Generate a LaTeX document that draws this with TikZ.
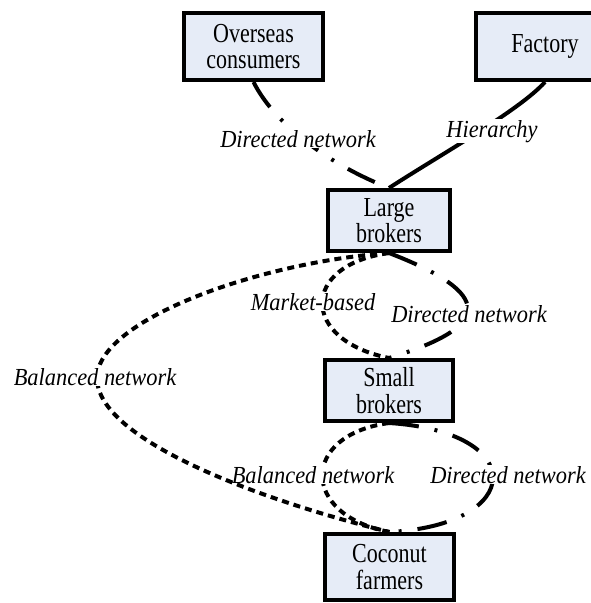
\documentclass[tikz,border=0pt]{standalone}
\usepackage{fontspec}
\setmainfont{Liberation Serif}
\newfontfamily\boxfont[FakeStretch=0.8]{Liberation Serif}
\newfontfamily\lblfont[FakeStretch=0.915]{Liberation Serif}
\definecolor{boxfill}{RGB}{230,236,247}
\begin{document}
\begin{tikzpicture}[x=1pt,y=-1pt,
  box/.style={draw=black, line width=4pt, fill=boxfill, align=center,
    font=\boxfont\fontsize{27.5}{26.3}\selectfont, inner sep=0pt},
  lbl/.style={fill=white, inner sep=1pt, font=\lblfont\itshape\fontsize{24.5}{27}\selectfont, anchor=base},
  solidlink/.style={line width=4pt},
  dirlink/.style={line width=4pt, dash pattern=on 30pt off 16pt on 3pt off 16pt},
  ballink/.style={line width=4pt, dash pattern=on 7pt off 5pt},
]
\useasboundingbox (0,0) rectangle (591,603);
\clip (0,0) rectangle (591,603);
% boxes
\node[box, minimum width=139pt, minimum height=67pt] (os) at (253.5,46.5) {Overseas\\consumers};
\node[box, minimum width=138pt, minimum height=67pt] (fa) at (545,46.5) {Factory};
\node[box, minimum width=122pt, minimum height=61pt] (lb) at (389,220.5) {Large\\brokers};
\node[box, minimum width=128pt, minimum height=61pt] (sb) at (389,390.5) {Small\\brokers};
\node[box, minimum width=129pt, minimum height=66pt] (cf) at (389.5,567) {Coconut\\farmers};
\coordinate (bl) at (97,378);
% connectors
\draw[dirlink] (os.south) .. controls (275,125) and (330,165) .. (lb.north);
\draw[solidlink] (fa.south) .. controls (520,110) and (440,155) .. (lb.north);
\draw[ballink] (lb.south) .. controls (300,265) and (300,340) .. (sb.north);
\draw[dirlink] (lb.south) .. controls (493,293) and (495,326) .. (sb.north);
\draw[ballink] (sb.south) .. controls (300,435) and (300,515) .. (cf.north);
\draw[dirlink] (sb.south) .. controls (530,432) and (525,525) .. (cf.north);
% labels
\node[lbl] (l1) at (298,147) {Directed network};
\node[lbl] (l2) at (492,137) {Hierarchy};
\node[lbl] (l3) at (313,310) {Market-based};
\node[lbl] (l4) at (469,322) {Directed network};
\node[lbl] (l6) at (313,483) {Balanced network};
\node[lbl] (l7) at (508,483) {Directed network};
% long balanced link
\draw[ballink] (lb.south) .. controls (260,262) and (97,320) .. (bl)
  .. controls (97,440) and (260,500) .. (cf.north);
\node[lbl] (l5) at (95,385) {Balanced network};
\end{tikzpicture}
\end{document}
